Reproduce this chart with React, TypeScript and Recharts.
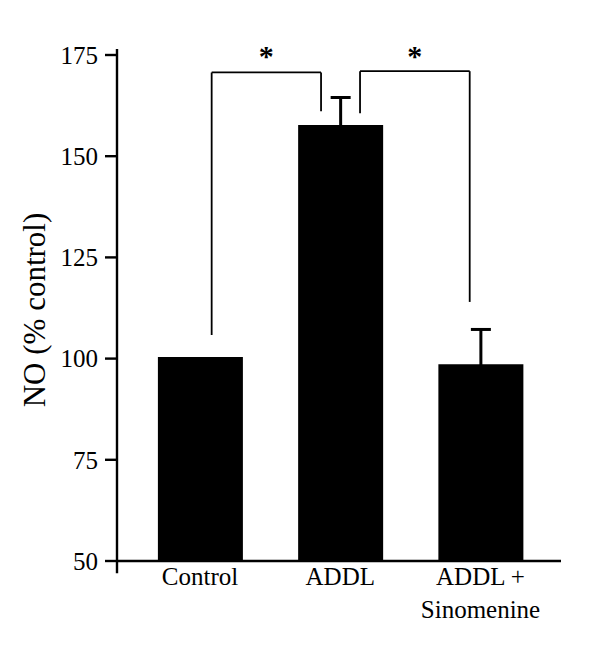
import React from 'react';
import { BarChart, Bar, XAxis, YAxis, ErrorBar, ReferenceLine, ReferenceDot } from 'recharts';

const categories = ['Control', 'ADDL', 'ADDL + Sinomenine'];
const tickLines = [['Control'], ['ADDL'], ['ADDL +', 'Sinomenine']];
const values = [100.4, 157.7, 98.6];
const errors = [null, 6.8, 8.6];
const yTicks = [50, 75, 100, 125, 150, 175];

// significance brackets: [left x, right x], top y, foot y of each leg
const bracketX = [[0.083, 0.863], [1.141, 1.923]];
const bracketTop = [170.7, 171];
const bracketFeet = [[105.8, 161.1], [160.6, 114.0]];
const starY = 175.4;

const X_DOMAIN: [number, number] = [-0.592, 2.574];
const serif = '"Liberation Serif", "Times New Roman", serif';

const data = categories.map((name, i) => ({
  pos: i,
  name,
  value: values[i],
  err: errors[i],
}));

function CategoryTick({ x, y, payload }: any) {
  const lines = tickLines[payload.value] || [];
  return (
    <text x={x} y={y + 24} textAnchor="middle" fontFamily={serif} fontSize={25} fill="#000">
      {lines.map((l, i) => (
        <tspan key={i} x={x} dy={i === 0 ? 0 : 33}>{l}</tspan>
      ))}
    </text>
  );
}

function YLabel({ viewBox }: any) {
  const x = viewBox.x + 34;
  const y = viewBox.y + viewBox.height / 2 + 2;
  return (
    <text x={x} y={y} transform={`rotate(-90 ${x} ${y})`} textAnchor="middle" dominantBaseline="central"
      fontFamily={serif} fontSize={31} fill="#000">
      NO (% control)
    </text>
  );
}

const Star = ({ cx, cy }: any) => (
  <text x={cx} y={cy + 13} textAnchor="middle" fontFamily={serif} fontSize={30} fontWeight="bold" fill="#000">*</text>
);

export default function App() {
  if (typeof document !== 'undefined') document.body.style.margin = '0';
  const segs: any[] = [];
  bracketX.forEach(([l, r], i) => {
    segs.push([{ x: l, y: bracketFeet[i][0] }, { x: l, y: bracketTop[i] }]);
    segs.push([{ x: l, y: bracketTop[i] }, { x: r, y: bracketTop[i] }]);
    segs.push([{ x: r, y: bracketTop[i] }, { x: r, y: bracketFeet[i][1] }]);
  });
  return (
    <div style={{ position: 'fixed', left: 0, top: 0, background: '#fff' }}>
      <BarChart width={600} height={647} data={data} margin={{ top: 55, right: 39, bottom: 0, left: 0 }}>
        <XAxis
          type="number"
          dataKey="pos"
          domain={X_DOMAIN}
          allowDataOverflow
          ticks={[0, 1, 2]}
          tick={<CategoryTick />}
          tickLine={false}
          tickSize={0}
          tickMargin={0}
          height={86}
          axisLine={{ stroke: '#000', strokeWidth: 2.4 }}
        />
        <YAxis
          type="number"
          domain={[50, 175]}
          allowDataOverflow
          ticks={yTicks}
          width={117}
          axisLine={false}
          tickSize={12}
          tickMargin={7}
          tickLine={{ stroke: '#000', strokeWidth: 2.4 }}
          tick={{ fontSize: 25, fill: '#000', fontFamily: serif }}
          label={{ content: <YLabel /> }}
        />
        <ReferenceLine
          segment={[{ x: X_DOMAIN[0], y: 47 }, { x: X_DOMAIN[0], y: 176.5 }]}
          stroke="#000"
          strokeWidth={2.4}
          ifOverflow="visible"
        />
        <Bar dataKey="value" fill="#000" barSize={85} isAnimationActive={false}>
          <ErrorBar dataKey="err" width={10} strokeWidth={3} stroke="#000" direction="y" />
        </Bar>
        {segs.map((s, i) => (
          <ReferenceLine key={`b${i}`} segment={s} stroke="#000" strokeWidth={1.8} ifOverflow="visible" />
        ))}
        {bracketX.map(([l, r], i) => (
          <ReferenceDot key={`s${i}`} x={(l + r) / 2} y={starY} r={0} shape={<Star />} ifOverflow="visible" />
        ))}
      </BarChart>
    </div>
  );
}
